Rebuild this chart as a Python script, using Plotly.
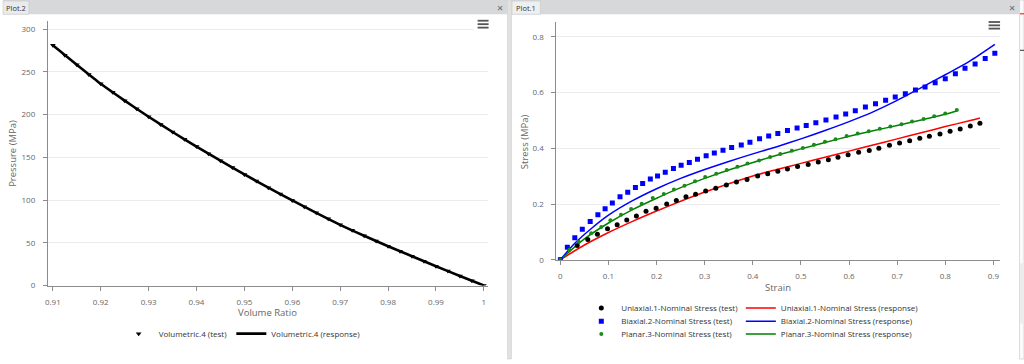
import plotly.graph_objects as go

W, H = 1024, 364

# ---------------- Plot.2 : volumetric test ----------------
vol_ratio_test = [0.9100, 0.9125, 0.9150, 0.9175, 0.9200, 0.9225, 0.9250, 0.9275, 0.9300, 0.9325,
                  0.9350, 0.9375, 0.9400, 0.9425, 0.9450, 0.9475, 0.9500, 0.9525, 0.9550, 0.9575,
                  0.9600, 0.9625, 0.9650, 0.9675, 0.9700, 0.9725, 0.9750, 0.9775, 0.9800, 0.9825,
                  0.9850, 0.9875, 0.9900, 0.9925, 0.9950, 0.9975, 1.0000]
pressure_test = [281.0, 269.5, 258.3, 247.0, 236.0, 226.0, 216.3, 206.8, 197.5, 188.5,
                 179.6, 171.0, 162.5, 154.2, 146.0, 138.0, 130.0, 122.2, 114.5, 107.0,
                 99.5, 92.2, 85.0, 78.0, 71.0, 64.6, 58.2, 52.0, 46.0, 40.2,
                 34.3, 28.4, 22.5, 16.9, 11.2, 5.6, 0.0]
vol_ratio_resp = [0.910, 0.915, 0.920, 0.925, 0.930, 0.935, 0.940, 0.945, 0.950, 0.955,
                  0.960, 0.965, 0.970, 0.975, 0.980, 0.985, 0.990, 0.995, 1.000]
pressure_resp = [281.0, 258.3, 236.0, 216.3, 197.5, 179.6, 162.5, 146.0, 130.0, 114.5,
                 99.5, 85.0, 71.0, 58.2, 46.0, 34.3, 22.5, 11.2, 0.0]
vol_xticks = [0.91, 0.92, 0.93, 0.94, 0.95, 0.96, 0.97, 0.98, 0.99, 1.0]
vol_xtick_text = ['0.91', '0.92', '0.93', '0.94', '0.95', '0.96', '0.97', '0.98', '0.99', '1']
pressure_ticks = [0, 50, 100, 150, 200, 250, 300]

# ---------------- Plot.1 : hyperelastic fits ----------------
uni_test_strain = [0, 0.035, 0.057, 0.077, 0.098, 0.118, 0.138, 0.158, 0.178, 0.199, 0.221,
                   0.241, 0.261, 0.281, 0.302, 0.323, 0.345, 0.366, 0.388, 0.410, 0.431,
                   0.452, 0.472, 0.493, 0.515, 0.536, 0.557, 0.577, 0.598, 0.620, 0.642,
                   0.662, 0.684, 0.705, 0.726, 0.747, 0.767, 0.789, 0.810, 0.831, 0.852, 0.872]
uni_test_stress = [0, 0.051, 0.073, 0.092, 0.111, 0.126, 0.143, 0.157, 0.174, 0.185, 0.200,
                   0.213, 0.226, 0.235, 0.247, 0.257, 0.268, 0.279, 0.288, 0.301, 0.309,
                   0.318, 0.326, 0.335, 0.342, 0.351, 0.359, 0.368, 0.377, 0.386, 0.392,
                   0.400, 0.411, 0.419, 0.427, 0.436, 0.443, 0.451, 0.461, 0.469, 0.480, 0.490]
uni_resp_strain = [0, 0.05, 0.1, 0.15, 0.2, 0.25, 0.3, 0.35, 0.4, 0.45, 0.5, 0.55, 0.6,
                   0.65, 0.7, 0.75, 0.8, 0.85, 0.872]
uni_resp_stress = [0, 0.053, 0.098, 0.138, 0.175, 0.210, 0.243, 0.273, 0.301, 0.324, 0.346,
                   0.368, 0.390, 0.412, 0.434, 0.456, 0.478, 0.499, 0.509]

bi_test_strain = [0, 0.0145, 0.030, 0.0456, 0.062, 0.078, 0.093, 0.108, 0.124, 0.140, 0.156,
                  0.171, 0.187, 0.202, 0.218, 0.235, 0.251, 0.268, 0.285, 0.303, 0.320,
                  0.338, 0.356, 0.376, 0.394, 0.414, 0.433, 0.452, 0.472, 0.492, 0.511,
                  0.531, 0.552, 0.573, 0.593, 0.613, 0.634, 0.655, 0.676, 0.696, 0.717,
                  0.738, 0.758, 0.779, 0.800, 0.821, 0.841, 0.862, 0.883, 0.903]
bi_test_stress = [0, 0.045, 0.079, 0.110, 0.137, 0.162, 0.183, 0.204, 0.226, 0.242, 0.259,
                  0.274, 0.290, 0.301, 0.314, 0.328, 0.339, 0.349, 0.361, 0.373, 0.383,
                  0.393, 0.403, 0.412, 0.422, 0.434, 0.444, 0.453, 0.464, 0.473, 0.482,
                  0.492, 0.502, 0.512, 0.523, 0.535, 0.548, 0.560, 0.573, 0.584, 0.596,
                  0.609, 0.620, 0.635, 0.650, 0.668, 0.687, 0.703, 0.722, 0.741]
bi_resp_strain = [0, 0.03, 0.065, 0.1, 0.15, 0.2, 0.25, 0.3, 0.35, 0.4, 0.45, 0.5, 0.55,
                  0.6, 0.65, 0.7, 0.75, 0.8, 0.85, 0.903]
bi_resp_stress = [0, 0.059, 0.113, 0.160, 0.212, 0.255, 0.292, 0.324, 0.353, 0.380, 0.406,
                  0.434, 0.464, 0.496, 0.531, 0.572, 0.618, 0.664, 0.712, 0.773]

pl_test_strain = [0, 0.019, 0.038, 0.064, 0.085, 0.104, 0.126, 0.147, 0.169, 0.192, 0.215,
                  0.236, 0.258, 0.280, 0.301, 0.324, 0.346, 0.368, 0.389, 0.413, 0.436,
                  0.457, 0.481, 0.504, 0.527, 0.550, 0.572, 0.595, 0.618, 0.641, 0.664,
                  0.686, 0.709, 0.731, 0.755, 0.777, 0.800, 0.824]
pl_test_stress = [0, 0.036, 0.065, 0.095, 0.118, 0.142, 0.162, 0.182, 0.201, 0.222, 0.236,
                  0.252, 0.266, 0.282, 0.297, 0.309, 0.322, 0.334, 0.346, 0.356, 0.369,
                  0.380, 0.391, 0.401, 0.413, 0.424, 0.433, 0.444, 0.453, 0.461, 0.470,
                  0.478, 0.486, 0.496, 0.505, 0.515, 0.525, 0.538]
pl_resp_strain = [0, 0.05, 0.1, 0.15, 0.2, 0.25, 0.3, 0.35, 0.4, 0.45, 0.5, 0.55, 0.6,
                  0.65, 0.7, 0.75, 0.8, 0.824]
pl_resp_stress = [0, 0.075, 0.132, 0.180, 0.221, 0.259, 0.292, 0.322, 0.349, 0.375, 0.398,
                  0.421, 0.443, 0.463, 0.482, 0.502, 0.522, 0.534]

strain_ticks = [0, 0.1, 0.2, 0.3, 0.4, 0.5, 0.6, 0.7, 0.8, 0.9]
strain_tick_text = ['0', '0.1', '0.2', '0.3', '0.4', '0.5', '0.6', '0.7', '0.8', '0.9']
stress_ticks = [0, 0.2, 0.4, 0.6, 0.8]
stress_tick_text = ['0', '0.2', '0.4', '0.6', '0.8']

FONT = 'Open Sans'
TICK_COLOR = '#666666'
AXIS_COLOR = '#8c8c8c'
GRID_COLOR = '#ebebeb'


def px(x):
    return x / W


def py(y):
    return 1 - y / H


fig = go.Figure()

# Left panel traces
fig.add_trace(go.Scatter(x=vol_ratio_resp, y=pressure_resp, mode='lines',
                         line=dict(color='black', width=2.6, shape='spline', smoothing=0.6),
                         name='Volumetric.4 (response)', legend='legend2',
                         xaxis='x', yaxis='y'))
fig.add_trace(go.Scatter(x=vol_ratio_test, y=pressure_test, mode='markers',
                         marker=dict(symbol='triangle-down', color='black', size=5),
                         name='Volumetric.4 (test)', legend='legend',
                         xaxis='x', yaxis='y'))

# Right panel traces (response lines first, test markers on top)
resp_line = dict(width=1.5, shape='spline', smoothing=0.8)
fig.add_trace(go.Scatter(x=uni_resp_strain, y=uni_resp_stress, mode='lines',
                         line=dict(color='#ff0000', **resp_line),
                         name='Uniaxial.1-Nominal Stress (response)', legend='legend4',
                         xaxis='x2', yaxis='y2'))
fig.add_trace(go.Scatter(x=bi_resp_strain, y=bi_resp_stress, mode='lines',
                         line=dict(color='#0000ff', **resp_line),
                         name='Biaxial.2-Nominal Stress (response)', legend='legend6',
                         xaxis='x2', yaxis='y2'))
fig.add_trace(go.Scatter(x=pl_resp_strain, y=pl_resp_stress, mode='lines',
                         line=dict(color='#008000', **resp_line),
                         name='Planar.3-Nominal Stress (response)', legend='legend8',
                         xaxis='x2', yaxis='y2'))
fig.add_trace(go.Scatter(x=uni_test_strain, y=uni_test_stress, mode='markers',
                         marker=dict(symbol='circle', color='black', size=5),
                         name='Uniaxial.1-Nominal Stress (test)', legend='legend3',
                         xaxis='x2', yaxis='y2'))
fig.add_trace(go.Scatter(x=bi_test_strain, y=bi_test_stress, mode='markers',
                         marker=dict(symbol='square', color='#0000ff', size=5),
                         name='Biaxial.2-Nominal Stress (test)', legend='legend5',
                         xaxis='x2', yaxis='y2'))
fig.add_trace(go.Scatter(x=pl_test_strain, y=pl_test_stress, mode='markers',
                         marker=dict(symbol='circle', color='#1a8a1a', size=4),
                         name='Planar.3-Nominal Stress (test)', legend='legend7',
                         xaxis='x2', yaxis='y2'))


def legend_cfg(x_px, y_px):
    return dict(x=px(x_px), y=py(y_px), xanchor='left', yanchor='middle',
                bgcolor='rgba(0,0,0,0)', borderwidth=0, itemwidth=30,
                font=dict(family=FONT, size=8, color='#333333'))


axis_common = dict(showline=True, linecolor=AXIS_COLOR, linewidth=1, ticks='outside',
                   ticklen=4, tickcolor=AXIS_COLOR, zeroline=False,
                   tickfont=dict(family=FONT, size=8, color=TICK_COLOR))
x_extra = dict(ticklabelstandoff=5)
y_extra = dict(ticklabelstandoff=6)

fig.update_layout(
    width=W, height=H, autosize=False,
    margin=dict(l=0, r=0, t=0, b=0),
    paper_bgcolor='white', plot_bgcolor='white',
    showlegend=True,
    xaxis=dict(domain=[px(45), px(486.7)], range=[0.90896, 1.00092],
               tickvals=vol_xticks, ticktext=vol_xtick_text, showgrid=False,
               anchor='y', **axis_common, **x_extra),
    yaxis=dict(domain=[py(289.5), py(21.7)], range=[0, 309],
               tickvals=pressure_ticks, showgrid=True, gridcolor=GRID_COLOR,
               anchor='x', **axis_common, **y_extra),
    xaxis2=dict(domain=[px(555), px(1000)], range=[-0.0083, 0.9139],
                tickvals=strain_ticks, ticktext=strain_tick_text, showgrid=False,
                anchor='y2', **axis_common, **x_extra),
    yaxis2=dict(domain=[py(263.4), py(22.7)], range=[0, 0.852],
                tickvals=stress_ticks, ticktext=stress_tick_text, showgrid=True,
                gridcolor=GRID_COLOR, anchor='x2', **axis_common, **y_extra),
    legend=legend_cfg(116, 338.3),
    legend2=legend_cfg(229, 338.3),
    legend3=legend_cfg(580, 312.3),
    legend5=legend_cfg(580, 325.7),
    legend7=legend_cfg(580, 338.7),
    legend4=legend_cfg(740, 312.3),
    legend6=legend_cfg(740, 325.7),
    legend8=legend_cfg(740, 338.7),
)

shapes = []


def rect(x0, y0, x1, y1, fill, line=None, lw=0):
    shapes.append(dict(type='rect', xref='paper', yref='paper', x0=px(x0), x1=px(x1),
                       y0=py(y1), y1=py(y0), fillcolor=fill,
                       line=dict(color=line or fill, width=lw), layer='above'))


def hline(x0, x1, y, color, w):
    shapes.append(dict(type='line', xref='paper', yref='paper', x0=px(x0), x1=px(x1),
                       y0=py(y), y1=py(y), line=dict(color=color, width=w), layer='above'))


# tab bars
rect(0, 0, 506, 14.5, '#d6d8da')
rect(510, 0, 1019.5, 14.5, '#d6d8da')
rect(0, 1, 26, 14.5, '#eaebec', '#c4c6c8', 0.6)
rect(510.5, 1, 539, 14.5, '#eeeff0', '#c4c6c8', 0.6)
# separator between the panels
rect(506, 0, 510, 364, '#e1e1e1', '#cfcfcf', 0.6)
# right-hand UI fragment
rect(1019.5, 0, 1024, 364, '#fafafa', '#c8c8c8', 0.6)
rect(1020, 267, 1024, 328, '#ececec')
hline(1020, 1024, 14, '#ff0000', 1)
hline(1020, 1024, 51, '#333333', 1)
# hamburger icons (white backing covers gridline)
rect(472, 17, 490, 31, 'white')
for yy in (21, 24.5, 28):
    hline(476, 487, yy, '#555555', 1.8)
for yy in (22.3, 25.7, 29):
    hline(988.5, 1000, yy, '#555555', 1.8)

fig.update_layout(shapes=shapes)

annotations = [
    dict(text='Plot.2', x=px(13), y=py(8), font=dict(family=FONT, size=7.5, color='#333333')),
    dict(text='Plot.1', x=px(524.5), y=py(8), font=dict(family=FONT, size=7.5, color='#333333')),
    dict(text='×', x=px(498.5), y=py(7.5), font=dict(family=FONT, size=11, color='#666666')),
    dict(text='×', x=px(1011.5), y=py(7.5), font=dict(family=FONT, size=11, color='#666666')),
    dict(text='Volume Ratio', x=px(265.7), y=py(316.5), font=dict(family=FONT, size=9.5, color=TICK_COLOR)),
    dict(text='Strain', x=px(777.3), y=py(291), font=dict(family=FONT, size=9.5, color=TICK_COLOR)),
    dict(text='Pressure (MPa)', x=px(10), y=py(155), textangle=-90,
         font=dict(family=FONT, size=9.5, color=TICK_COLOR)),
    dict(text='Stress (MPa)', x=px(522.7), y=py(144), textangle=-90,
         font=dict(family=FONT, size=9.5, color=TICK_COLOR)),
]
for a in annotations:
    a.update(xref='paper', yref='paper', showarrow=False, xanchor='center', yanchor='middle')
fig.update_layout(annotations=annotations)

fig.write_html('out.html', config={'displayModeBar': False},
               post_script="document.body.style.margin='0';document.body.style.overflow='hidden';")
